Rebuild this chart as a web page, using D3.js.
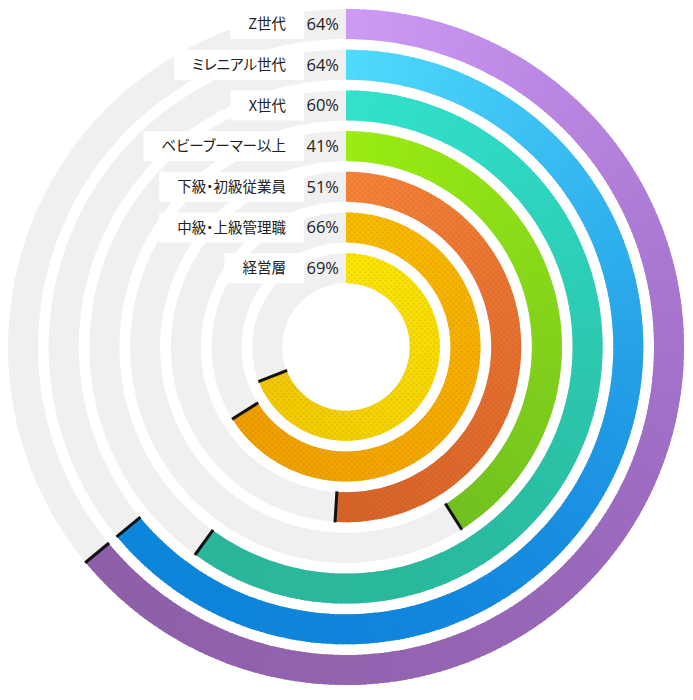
<!DOCTYPE html>
<html><head><meta charset="utf-8">
<script src="https://cdn.jsdelivr.net/npm/d3@7"></script>
<style>body{margin:0;background:#fff} .lbl{font-feature-settings:"palt";}</style>
</head><body><svg id="c" width="693" height="700"></svg>
<script>
const categories = ["Z世代","ミレニアル世代","X世代","ベビーブーマー以上","下級・初級従業員","中級・上級管理職","経営層"];
const values = [64, 64, 60, 41, 51, 66, 69];
const valueLabels = ["64%","64%","60%","41%","51%","66%","69%"];

// styles (kept separate from data)
const ringColors = [
  ["#cd9af5","#a673d0","#9464b2","#8e5fa8"],
  ["#4fdbfc","#2aa8ea","#0f80dc","#0c86da"],
  ["#32e2cc","#2dcfb8","#29b89c","#2ab69a"],
  ["#9aec12","#86d61a","#72c020"],
  ["#f5843a","#e46e2e","#d6642a"],
  ["#f8bd00","#f4ab00","#ef9f00"],
  ["#fae700","#f6d800","#f0c800"]
];
const dotted = [false,false,false,false,true,true,true];

const W = 693, H = 700, cx = 346, cy = 347;
const R0 = 338, step = 40.7, gap = 10.7;
const svg = d3.select("#c");

const defs = svg.append("defs");
const pat = defs.append("pattern").attr("id","dots").attr("width",4).attr("height",4)
  .attr("patternUnits","userSpaceOnUse").attr("patternTransform","rotate(45)");
pat.append("circle").attr("cx",1.2).attr("cy",1.2).attr("r",0.85).attr("fill","rgba(130,50,0,0.20)");

const rScale = d3.scaleBand()
  .domain(categories.slice().reverse())
  .range([R0 - categories.length*step + gap, R0])
  .paddingInner(gap/step).paddingOuter(0);
const aScale = d3.scaleLinear().domain([0,100]).range([0, 2*Math.PI]);

const g = svg.append("g").attr("transform",`translate(${cx},${cy})`);
const arc = d3.arc();

// gray tracks
categories.forEach((c,i)=>{
  const ri = rScale(c), ro = ri + rScale.bandwidth();
  g.append("path").attr("d", arc({innerRadius:ri, outerRadius:ro, startAngle:0, endAngle:2*Math.PI}))
    .attr("fill","#f0f0f0");
});

// label boxes + labels
const labelLayer = svg.append("g");
categories.forEach((c,i)=>{
  const ri = rScale(c), ro = ri + rScale.bandwidth();
  const yc = cy - (ri+ro)/2;
  const rect = labelLayer.append("rect").attr("fill","#fff");
  const t = labelLayer.append("text").text(c).attr("class","lbl")
    .attr("font-family","'Noto Sans CJK JP', sans-serif").attr("font-size",14.5)
    .attr("fill","#222").attr("text-anchor","middle").attr("dy","0.36em").attr("y",yc);
  const w = t.node().getComputedTextLength();
  const bw = Math.max(68, w + 36);
  const right = 304;
  t.attr("x", right - bw/2);
  rect.attr("x", right - bw).attr("y", yc - rScale.bandwidth()/2).attr("width", bw).attr("height", rScale.bandwidth());
  labelLayer.append("text").text(valueLabels[i])
    .attr("font-family","'Open Sans', sans-serif").attr("font-size",16.5)
    .attr("fill","#222").attr("text-anchor","end").attr("dy","0.36em")
    .attr("x", cx - 7).attr("y", yc);
});

// colored arcs (conic gradient via small segments)
categories.forEach((c,i)=>{
  const ri = rScale(c), ro = ri + rScale.bandwidth();
  const end = aScale(values[i]);
  const interp = d3.interpolateRgbBasis(ringColors[i]);
  const segG = g.append("g");
  const n = Math.ceil(values[i]*3.6);
  const da = end / n;
  for(let k=0;k<n;k++){
    const a0 = k*da, a1 = Math.min(end, (k+1)*da + 0.006);
    segG.append("path").attr("d", arc({innerRadius:ri, outerRadius:ro, startAngle:a0, endAngle:a1}))
      .attr("fill", interp((k+0.5)/n));
  }
  if(dotted[i]){
    g.append("path").attr("d", arc({innerRadius:ri, outerRadius:ro, startAngle:0, endAngle:end}))
      .attr("fill","url(#dots)");
  }
  // end cap
  g.append("line")
    .attr("x1", (ri-0.5)*Math.sin(end)).attr("y1", -(ri-0.5)*Math.cos(end))
    .attr("x2", (ro+0.5)*Math.sin(end)).attr("y2", -(ro+0.5)*Math.cos(end))
    .attr("stroke","#111").attr("stroke-width",3);
});
</script>
</body></html>
